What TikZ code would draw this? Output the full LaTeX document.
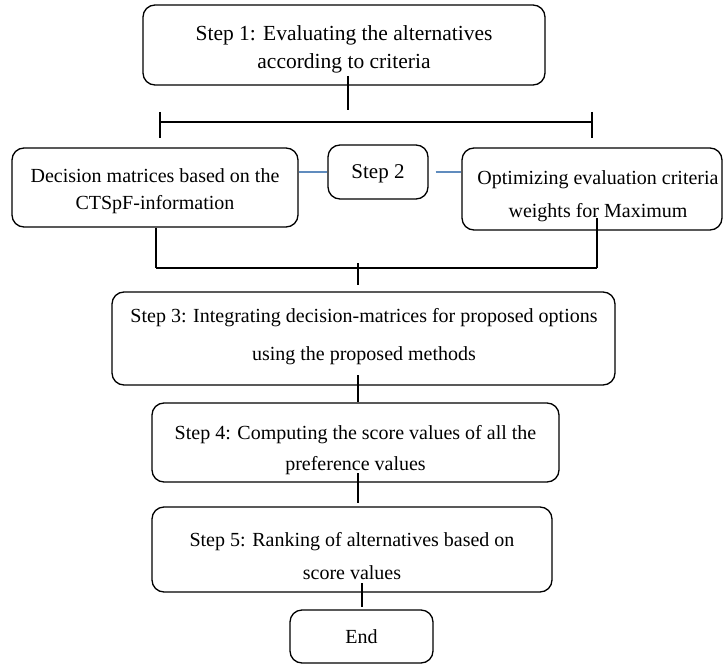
\documentclass[tikz,border=0pt]{standalone}
\usepackage{fontspec}
\setmainfont{Liberation Serif}
\usetikzlibrary{calc}
\definecolor{linkblue}{RGB}{96,140,190}
\begin{document}
\begin{tikzpicture}[x=1pt,y=-1pt,
  box/.style={draw, line width=1.3pt, rounded corners=12pt, inner sep=0pt},
  txt/.style={align=center, inner sep=0pt},
  conn/.style={line width=1.3pt},
  blueconn/.style={line width=1.2pt, draw=linkblue}]
\useasboundingbox (0,0) rectangle (725,666);
% boxes
\node[box, minimum width=402pt, minimum height=80pt] (s1) at (344,45) {};
\node[box, minimum width=286pt, minimum height=79pt] (left) at (155,187.5) {};
\node[box, minimum width=100pt, minimum height=54pt] (s2) at (378,172) {};
\node[box, minimum width=260pt, minimum height=82pt] (right) at (592,189) {};
\node[box, minimum width=503pt, minimum height=93pt] (s3) at (363.5,338.5) {};
\node[box, minimum width=407pt, minimum height=79pt] (s4) at (355.5,442.5) {};
\node[box, minimum width=400pt, minimum height=85pt] (s5) at (352,549.5) {};
\node[box, minimum width=143pt, minimum height=53pt] (end) at (361.5,636.5) {};
% texts
\node[txt, font=\fontsize{21.5}{28}\selectfont] (t1) at (344,49)
  {Step 1: Evaluating the alternatives\\according to criteria};
\node[txt, font=\fontsize{20}{27}\selectfont] (tl) at (155,191.5)
  {Decision matrices based on the\\CTSpF-information};
\node[txt, font=\fontsize{21}{28}\selectfont] (t2) at (378,174) {Step 2};
\node[txt, font=\fontsize{20}{33}\selectfont] (tr) at (598,196.5)
  {Optimizing evaluation criteria\\weights for Maximum};
\node[txt, font=\fontsize{20}{38}\selectfont] (t3) at (364,337)
  {Step 3: Integrating decision-matrices for proposed options\\using the proposed methods};
\node[txt, font=\fontsize{20}{31}\selectfont] (t4) at (355.5,450.5)
  {Step 4: Computing the score values of all the\\preference values};
\node[txt, font=\fontsize{20}{33}\selectfont] (t5) at (352,556.5)
  {Step 5: Ranking of alternatives based on\\score values};
\node[txt, font=\fontsize{20}{24}\selectfont] (te) at (361.5,636.5) {End};
% coordinates
\coordinate (a1) at (348,76);
\coordinate (a2) at (348,110);
\coordinate (hl) at (160,122);
\coordinate (hr) at (592,122);
\coordinate (tlt) at (160,112);
\coordinate (tlb) at (160,138);
\coordinate (trt) at (592,112);
\coordinate (trb) at (592,138);
\coordinate (l1) at (156,268);
\coordinate (r1) at (597,218);
\coordinate (r2) at (597,268);
\coordinate (c1) at (358,263);
\coordinate (c2) at (358,285);
\coordinate (d1) at (358,375);
\coordinate (e1) at (358,473);
\coordinate (e2) at (358,503);
\coordinate (f1) at (362,583);
\coordinate (f2) at (362,607);
% lines
\draw[conn] (a1) -- (a2);
\draw[conn] (hl) -- (hr);
\draw[conn] (tlt) -- (tlb);
\draw[conn] (trt) -- (trb);
\draw[blueconn] (left.east |- s2.west) -- (s2.west);
\draw[blueconn] ([xshift=7pt]s2.east) -- (right.west |- s2.east);
\draw[conn] (left.south -| l1) -- (l1);
\draw[conn] (l1) -- (r2);
\draw[conn] (r1) -- (r2);
\draw[conn] (c1) -- (c2);
\draw[conn] (d1) -- (s4.north -| d1);
\draw[conn] (e1) -- (e2);
\draw[conn] (f1) -- (f2);
\end{tikzpicture}
\end{document}
